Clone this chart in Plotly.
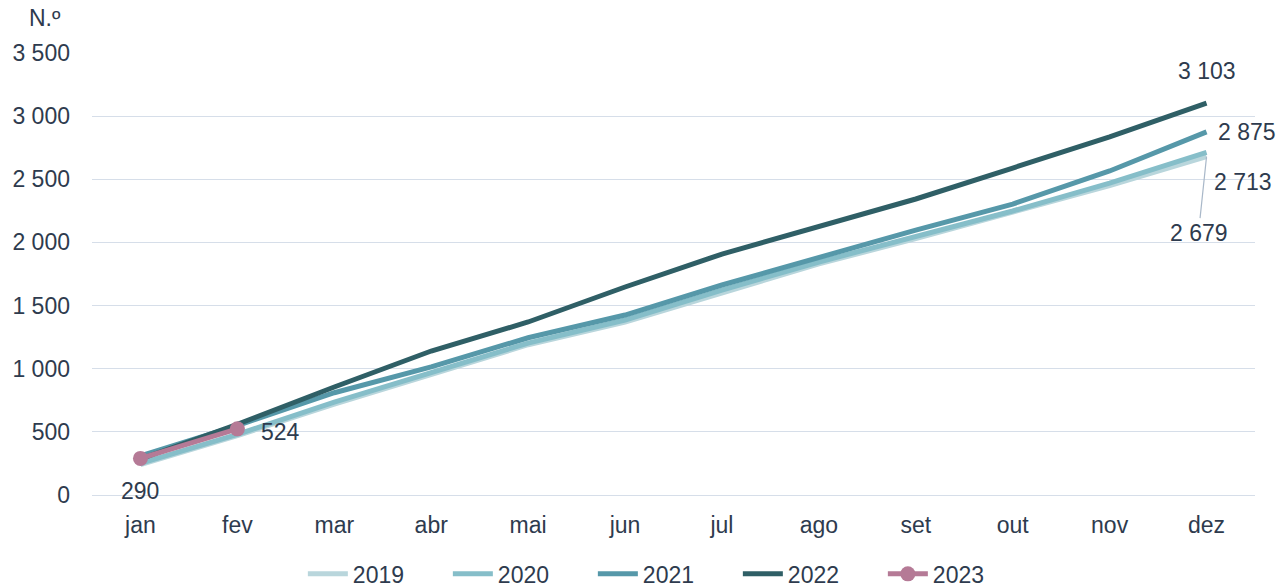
import plotly.graph_objects as go

months = ["jan", "fev", "mar", "abr", "mai", "jun", "jul", "ago", "set", "out", "nov", "dez"]
y2019 = [240, 470, 720, 960, 1190, 1370, 1600, 1830, 2030, 2240, 2450, 2679]
y2020 = [250, 480, 736, 974, 1203, 1386, 1623, 1845, 2043, 2249, 2470, 2713]
y2021 = [310, 550, 810, 1015, 1245, 1425, 1663, 1885, 2098, 2304, 2566, 2875]
y2022 = [285, 560, 855, 1140, 1370, 1647, 1908, 2122, 2344, 2589, 2835, 3103]
y2023 = [290, 524]

series = [
    ("2019", y2019, "#b9d6dc"),
    ("2020", y2020, "#86bec9"),
    ("2021", y2021, "#5698a9"),
    ("2022", y2022, "#2f5f66"),
]

fig = go.Figure()
for name, ys, col in series:
    fig.add_trace(go.Scatter(x=months[:len(ys)], y=ys, name=name, mode="lines",
                             line=dict(color=col, width=5)))
fig.add_trace(go.Scatter(x=months[:len(y2023)], y=y2023, name="2023", mode="lines+markers",
                         line=dict(color="#b57a96", width=5),
                         marker=dict(size=15, color="#b57a96")))

txt = dict(family="Liberation Sans, Arial, sans-serif", size=23, color="#2e3b4e")

def fmt(v):
    return f"{v:,}".replace(",", " ")

ann = [
    dict(x="dez", y=y2022[-1], text=fmt(y2022[-1]), showarrow=False, yshift=32),
    dict(x="dez", y=y2021[-1], text=fmt(y2021[-1]), showarrow=False, xanchor="left", xshift=9),
    dict(x="dez", y=y2020[-1], text=fmt(y2020[-1]), showarrow=False, xanchor="left", xshift=5, yshift=-30),
    dict(x="dez", y=y2019[-1], text=fmt(y2019[-1]), showarrow=True, arrowhead=0, arrowwidth=1.2,
         arrowcolor="#a9b8c9", ax=-8, ay=76),
    dict(x="jan", y=y2023[0], text=fmt(y2023[0]), showarrow=False, yshift=-33),
    dict(x="fev", y=y2023[1], text=fmt(y2023[1]), showarrow=False, xanchor="left", xshift=22, yshift=-3),
    dict(x=-0.0404, y=1.0, xref="paper", yref="paper", text="N.º", showarrow=False,
         xanchor="center", yanchor="middle", yshift=35),
]
for a in ann:
    a["font"] = txt
    fig.add_annotation(**a)

fig.update_layout(
    width=1277, height=588,
    margin=dict(l=92, r=22, t=53, b=93, autoexpand=False),
    paper_bgcolor="white", plot_bgcolor="white",
    separators=", ",
    font=txt,
    showlegend=True,
    legend=dict(orientation="h", x=0.493, xanchor="center", y=0.024, yanchor="middle",
                yref="container", font=txt, itemwidth=40, traceorder="normal",
                entrywidth=90, entrywidthmode="pixels"),
    xaxis=dict(type="category", categoryorder="array", categoryarray=months,
               range=[-0.5, 11.5], showgrid=False, showline=True, linecolor="#d6dee9",
               linewidth=1, ticks="", tickfont=txt, automargin=False, ticklabelstandoff=9),
    yaxis=dict(range=[0, 3500], dtick=500, showgrid=True, gridcolor="#d6dee9", gridwidth=1,
               zeroline=False, tickformat=",d", tickfont=txt, ticks="",
               ticklabelstandoff=21, automargin=False),
)

fig.write_html("out.html", config={"displayModeBar": False},
               post_script="document.body.style.margin='0';document.body.style.overflow='hidden';")
